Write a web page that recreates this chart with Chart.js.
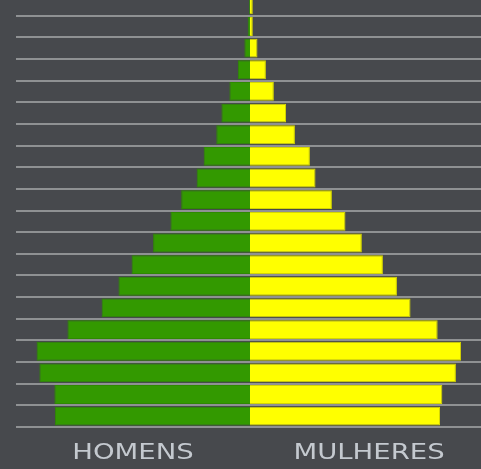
<!DOCTYPE html>
<html>
<head>
<meta charset="utf-8">
<script src="https://cdn.jsdelivr.net/npm/chart.js@4/dist/chart.umd.min.js"></script>
<style>
  html, body { margin: 0; padding: 0; background: #47494d; overflow: hidden; width: 481px; height: 469px; }
  #wrap { position: absolute; left: 0; top: -6px; width: 490px; height: 475px; }
  .side { position: absolute; top: 441px; width: 200px; margin-left: -100px; text-align: center;
          font-family: 'DejaVu Sans'; font-size: 22px; line-height: 22px; color: #c4c9cf;
          transform: scaleX(1.25); transform-origin: 50% 50%; white-space: nowrap; }
</style>
</head>
<body>
<div id="wrap"><canvas id="c"></canvas></div>
<div id="labels"></div>
<script>
// Age groups, top (oldest) to bottom (youngest)
const ageGroups = ['100+','95-99','90-94','85-89','80-84','75-79','70-74','65-69','60-64','55-59','50-54','45-49','40-44','35-39','30-34','25-29','20-24','15-19','10-14','5-9'];
// Share of population (%) per age group
const homens   = [0.02,0.05,0.12,0.26,0.44,0.61,0.72,0.99,1.14,1.47,1.70,2.07,2.53,2.81,3.17,3.90,4.56,4.50,4.18,4.17];
const mulheres = [0.06,0.06,0.16,0.34,0.51,0.77,0.96,1.28,1.40,1.75,2.04,2.39,2.84,3.14,3.43,4.01,4.51,4.40,4.11,4.06];
// Bottom labels and their positions on the value axis
const sideLabels = ['HOMENS','MULHERES'];
const sideLabelPos = [-2.5, 2.55];

// Place the side labels under the value axis, using the chart's own x scale
const sideLabelPlugin = {
  id: 'sideLabels',
  afterRender(chart) {
    const box = document.getElementById('labels');
    if (box.childElementCount) return;
    const xs = chart.scales.x;
    sideLabels.forEach((t, i) => {
      const d = document.createElement('div');
      d.className = 'side';
      d.textContent = t;
      d.style.left = xs.getPixelForValue(sideLabelPos[i]) + 'px';
      box.appendChild(d);
    });
  }
};

new Chart(document.getElementById('c'), {
  type: 'bar',
  data: {
    labels: ageGroups,
    datasets: [
      { label: 'Homens', data: homens.map(v => -v), backgroundColor: '#339900', borderColor: '#2e8a00', borderWidth: 1, barPercentage: 1, categoryPercentage: 0.87 },
      { label: 'Mulheres', data: mulheres, backgroundColor: '#ffff00', borderColor: '#d6d600', borderWidth: 1, barPercentage: 1, categoryPercentage: 0.87 }
    ]
  },
  options: {
    indexAxis: 'y',
    responsive: true,
    maintainAspectRatio: false,
    animation: false,
    layout: { padding: { left: 16, right: 6, top: 0, bottom: 0 } },
    plugins: { legend: { display: false }, tooltip: { enabled: false } },
    scales: {
      x: {
        stacked: true,
        min: -5, max: 5,
        grid: { display: false, drawTicks: false },
        border: { display: false },
        ticks: { display: false },
        afterFit(axis) { axis.height = 42; }
      },
      y: {
        stacked: true,
        grid: { color: '#8f9193', lineWidth: 2, drawTicks: false, offset: true },
        border: { display: false },
        ticks: { display: false },
        afterFit(axis) { axis.width = 0; }
      }
    }
  },
  plugins: [sideLabelPlugin]
});
</script>
</body>
</html>
